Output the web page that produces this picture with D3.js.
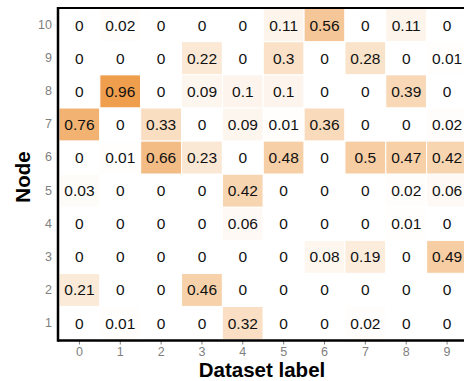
<!DOCTYPE html>
<html><head><meta charset="utf-8">
<script src="https://cdn.jsdelivr.net/npm/d3@7"></script>
<style>body{margin:0;background:#fff;} svg{display:block;font-family:"Liberation Sans",Arial,sans-serif;}</style>
</head><body>
<script>
const datasetLabels = [0,1,2,3,4,5,6,7,8,9];
const nodes = [1,2,3,4,5,6,7,8,9,10];
// rows by node (1..10), columns by dataset label (0..9)
const node1  = [0, 0.01, 0, 0, 0.32, 0, 0, 0.02, 0, 0];
const node2  = [0.21, 0, 0, 0.46, 0, 0, 0, 0, 0, 0];
const node3  = [0, 0, 0, 0, 0, 0, 0.08, 0.19, 0, 0.49];
const node4  = [0, 0, 0, 0, 0.06, 0, 0, 0, 0.01, 0];
const node5  = [0.03, 0, 0, 0, 0.42, 0, 0, 0, 0.02, 0.06];
const node6  = [0, 0.01, 0.66, 0.23, 0, 0.48, 0, 0.5, 0.47, 0.42];
const node7  = [0.76, 0, 0.33, 0, 0.09, 0.01, 0.36, 0, 0, 0.02];
const node8  = [0, 0.96, 0, 0.09, 0.1, 0.1, 0, 0, 0.39, 0];
const node9  = [0, 0, 0, 0.22, 0, 0.3, 0, 0.28, 0, 0.01];
const node10 = [0, 0.02, 0, 0, 0, 0.11, 0.56, 0, 0.11, 0];
const values = [node1,node2,node3,node4,node5,node6,node7,node8,node9,node10];

(function(){
const W = 464, H = 381;
const FONT = "Liberation Sans, Arial, sans-serif";
const svg = d3.select("body").append("svg").attr("width", W).attr("height", H);
const mL = 59, mT = 8.5, mR = 467.5, mB = 339.5;

const x = d3.scaleBand().domain(datasetLabels).range([mL, mR]).padding(0);
const y = d3.scaleBand().domain(nodes.slice().reverse()).range([mT, mB]).padding(0);
const color = d3.scaleLinear().domain([0, 1]).range(["#ffffff", "#ee9a46"]).interpolate(d3.interpolateRgb);

const cells = [];
nodes.forEach((n, i) => datasetLabels.forEach((d, j) => cells.push({node: n, label: d, v: values[i][j]})));

svg.append("g").selectAll("rect").data(cells).join("rect")
  .attr("x", d => x(d.label)).attr("y", d => y(d.node))
  .attr("width", x.bandwidth()).attr("height", y.bandwidth())
  .attr("fill", d => color(d.v)).attr("stroke", "#fff").attr("stroke-width", 1);

svg.append("g").selectAll("text").data(cells).join("text")
  .attr("x", d => x(d.label) + x.bandwidth()/2)
  .attr("y", d => y(d.node) + y.bandwidth()/2)
  .attr("text-anchor", "middle").attr("dy", "0.36em")
  .style("font-size", "15.5px").style("font-family", FONT).attr("fill", "#111")
  .text(d => String(+d.v.toFixed(2)));

const xAxis = svg.append("g").attr("transform", `translate(0,${mB+1})`)
  .call(d3.axisBottom(x).tickSize(4).tickPadding(3));
xAxis.select(".domain").remove();
xAxis.selectAll("line").attr("stroke", "#7f7f7f");
xAxis.selectAll("text").attr("fill", "#7f7f7f").style("font-size", "12.5px").style("font-family", FONT);

const yAxis = svg.append("g").attr("transform", `translate(${mL-1},0)`)
  .call(d3.axisLeft(y).tickSize(0).tickPadding(6));
yAxis.select(".domain").remove();
yAxis.selectAll("text").attr("fill", "#7f7f7f").style("font-size", "12.5px").style("font-family", FONT);

svg.append("line").attr("x1", mL-1).attr("x2", W).attr("y1", mT-0.5).attr("y2", mT-0.5).attr("stroke", "#000").attr("stroke-width", 2);
svg.append("line").attr("x1", mL-1).attr("x2", W).attr("y1", mB+1).attr("y2", mB+1).attr("stroke", "#000").attr("stroke-width", 2.5);
svg.append("line").attr("x1", mL-1).attr("x2", mL-1).attr("y1", mT-1.5).attr("y2", mB+2.2).attr("stroke", "#000").attr("stroke-width", 2.5);

svg.append("text").attr("x", 262).attr("y", 377)
  .attr("text-anchor", "middle").style("font-size", "20.5px").attr("font-weight", "bold").text("Dataset label");
svg.append("text").attr("transform", `translate(30,177) rotate(-90)`)
  .attr("text-anchor", "middle").style("font-size", "20.5px").attr("font-weight", "bold").text("Node");
})();
</script>
</body></html>
